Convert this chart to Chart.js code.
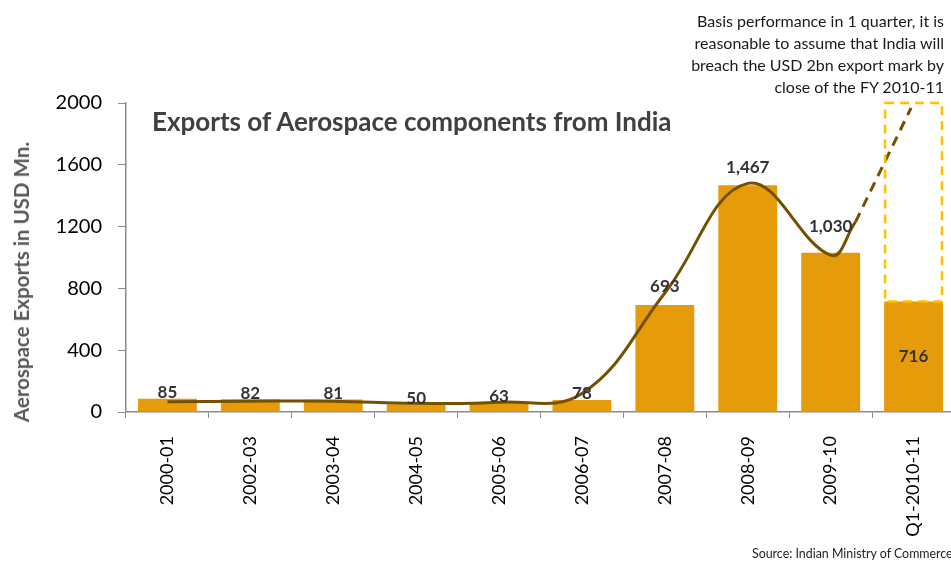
<!DOCTYPE html>
<html>
<head>
<meta charset="utf-8">
<script src="https://cdn.jsdelivr.net/npm/chart.js@4.4.1/dist/chart.umd.min.js"></script>
<style>
  html, body { margin: 0; padding: 0; background: #fff; overflow: hidden; }
  #wrap { position: relative; width: 951px; height: 561px; overflow: hidden; font-family: Lato, 'Open Sans', sans-serif; }
  #chart { position: absolute; left: 0; top: 0; }
  .txt { position: absolute; white-space: nowrap; }
  #title { left: 152px; top: 108px; font-size: 26px; line-height: 26px; font-weight: bold; color: #404040; }
  #note { right: 7px; top: 10px; font-size: 16px; line-height: 22px; text-align: right; color: #1a1a1a; }
  #ytitle { left: 21px; top: 282px; font-size: 20.5px; font-weight: bold; color: #595959; transform: translate(-50%, -50%) rotate(-90deg); }
  #source { left: 752px; top: 546px; font-size: 12.4px; color: #222; }
</style>
</head>
<body>
<div id="wrap">
  <canvas id="chart" width="955" height="561"></canvas>
  <div class="txt" id="title">Exports of Aerospace components from India</div>
  <div class="txt" id="note">Basis performance in 1 quarter, it is<br>reasonable to assume that India will<br>breach the USD 2bn export mark by<br>close of the FY 2010-11</div>
  <div class="txt" id="ytitle">Aerospace Exports in USD Mn.</div>
  <div class="txt" id="source">Source: Indian Ministry of Commerce</div>
</div>
<script>
const years = ['2000-01', '2002-03', '2003-04', '2004-05', '2005-06', '2006-07', '2007-08', '2008-09', '2009-10', 'Q1-2010-11']
const exportsUsdMn = [85, 82, 81, 50, 63, 78, 693, 1467, 1030, 716]

// smooth trend line (category index, value)
const trendX = [0, 1, 2, 3, 4, 5, 6, 7, 8, 8.3]
const trendY = [67, 70, 70, 56, 63, 120, 770, 1480, 1015, 1230]
// dashed projection towards the 2bn mark
const projX = [8.3, 8.97]
const projY = [1230, 1968]
const target = 2000

const barColor = '#E69C0A'
const lineColor = '#755000'

// value labels over the bars, the quarter bar gets its label inside
const barLabels = {
  id: 'barLabels',
  afterDatasetsDraw (chart) {
    const ctx = chart.ctx
    const meta = chart.getDatasetMeta(0)
    ctx.save()
    ctx.font = 'bold 17px Lato, sans-serif'
    ctx.fillStyle = '#333333'
    ctx.textAlign = 'center'
    ctx.textBaseline = 'middle'
    meta.data.forEach((bar, i) => {
      const v = exportsUsdMn[i]
      const text = v.toLocaleString('en-US')
      if (i === exportsUsdMn.length - 1) {
        ctx.fillText(text, bar.x, (bar.y + bar.base) / 2)
      } else {
        let lift = v < 100 ? 6 : 18
        if (i === 8) lift = 26
        ctx.fillText(text, bar.x, bar.y - lift)
      }
    })
    ctx.restore()
  }
}

// dashed outline from the last bar up to the 2bn target
const targetBox = {
  id: 'targetBox',
  afterDatasetsDraw (chart) {
    const ctx = chart.ctx
    const bar = chart.getDatasetMeta(0).data[exportsUsdMn.length - 1]
    const top = chart.scales.y.getPixelForValue(target)
    const left = bar.x - bar.width / 2
    ctx.save()
    ctx.strokeStyle = '#FFC000'
    ctx.lineWidth = 2.5
    ctx.setLineDash([9, 6])
    ctx.strokeRect(left + 1, top, bar.width - 2, bar.y - top)
    ctx.restore()
  }
}

const ctx = document.getElementById('chart').getContext('2d')
new Chart(ctx, {
  data: {
    labels: years,
    datasets: [
      {
        type: 'bar',
        data: exportsUsdMn,
        backgroundColor: barColor,
        barPercentage: 0.71,
        categoryPercentage: 1,
        grouped: false,
        xAxisID: 'x',
        order: 2
      },
      {
        type: 'line',
        data: trendX.map((x, i) => ({ x: x, y: trendY[i] })),
        borderColor: lineColor,
        borderWidth: 3,
        tension: 0.4,
        pointRadius: 0,
        xAxisID: 'xl',
        order: 1
      },
      {
        type: 'line',
        data: projX.map((x, i) => ({ x: x, y: projY[i] })),
        borderColor: lineColor,
        borderWidth: 3,
        borderDash: [10, 7],
        tension: 0,
        pointRadius: 0,
        xAxisID: 'xl',
        order: 1
      }
    ]
  },
  options: {
    responsive: false,
    animation: false,
    layout: { padding: { top: 103, left: 0, right: 0, bottom: 0 } },
    plugins: {
      legend: { display: false },
      tooltip: { enabled: false }
    },
    scales: {
      x: {
        type: 'category',
        offset: true,
        grid: { offset: true, drawOnChartArea: false, drawTicks: true, tickLength: 6, color: '#8c8c8c' },
        border: { color: '#8c8c8c', width: 1.5 },
        ticks: {
          autoSkip: false,
          minRotation: 90,
          maxRotation: 90,
          padding: 18,
          color: '#000',
          font: { family: 'Lato', size: 18 }
        },
        afterFit (scale) { scale.height = 149 }
      },
      xl: {
        type: 'linear',
        display: false,
        min: -0.5,
        max: 9.5
      },
      y: {
        min: 0,
        max: 2000,
        grid: { drawOnChartArea: false, drawTicks: true, tickLength: 8, color: '#8c8c8c' },
        border: { color: '#8c8c8c', width: 1.5 },
        ticks: {
          stepSize: 400,
          padding: 16,
          color: '#000',
          font: { family: 'Lato', size: 20 },
          callback: v => String(v)
        },
        afterFit (scale) { scale.width = 126 }
      }
    }
  },
  plugins: [targetBox, barLabels]
})
</script>
</body>
</html>
